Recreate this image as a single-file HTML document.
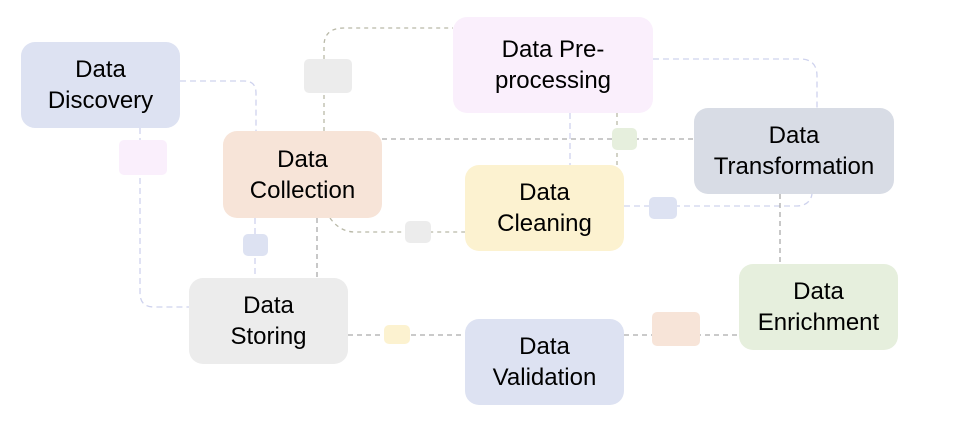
<!DOCTYPE html>
<html><head><style>
body{margin:0;background:#fff}
#c{position:relative;width:954px;height:424px;overflow:hidden;font-family:"Liberation Sans",sans-serif}
.n{position:absolute;border-radius:14px;display:flex;align-items:center;justify-content:center;text-align:center;font-size:24px;line-height:31px;color:#000}
.s{position:absolute;border-radius:5px}
svg{position:absolute;left:0;top:0}
</style></head><body><div id="c">
<svg width="954" height="424" fill="none" stroke-width="1.3">
<g stroke="#cfd3ee" stroke-dasharray="6,4">
<path d="M180 81 H244 Q256 81 256 93 V131"/>
<path d="M140 128 V293 Q140 307 154 307 H189"/>
<path d="M653 59 H800 Q817 59 817 76 V108"/>
<path d="M624 206 H796 Q810 206 812 194"/>
<path d="M570 113 V165"/>
<path d="M255 218 V278"/>
</g>
<g stroke="#b9b9a8" stroke-dasharray="4,4">
<path d="M324 131 V46 Q324 28 344 28 H453"/>
<path d="M617 113 V165"/>
<path d="M330 218 Q340 232 355 232 H465"/>
</g>
<g stroke="#aaa" stroke-dasharray="5,4">
<path d="M382 139 H694"/>
<path d="M317 218 V278"/>
<path d="M348 335 H465"/>
<path d="M624 335 H739"/>
<path d="M780 194 V264"/>
</g>
</svg>
<div class="s" style="left:304px;top:59px;width:48px;height:34px;background:#ececec"></div>
<div class="s" style="left:119px;top:140px;width:48px;height:35px;background:#faeffc"></div>
<div class="s" style="left:243px;top:234px;width:25px;height:22px;background:#dde2f2"></div>
<div class="s" style="left:405px;top:221px;width:26px;height:22px;background:#ececec"></div>
<div class="s" style="left:384px;top:325px;width:26px;height:19px;background:#fcf2d0"></div>
<div class="s" style="left:612px;top:128px;width:25px;height:22px;background:#e6efdd"></div>
<div class="s" style="left:649px;top:197px;width:28px;height:22px;background:#dde2f2"></div>
<div class="s" style="left:652px;top:312px;width:48px;height:34px;background:#f7e4d8"></div>
<div class="n" style="left:21px;top:42px;width:159px;height:86px;background:#dde2f2">Data<br>Discovery</div>
<div class="n" style="left:223px;top:131px;width:159px;height:87px;background:#f7e4d8">Data<br>Collection</div>
<div class="n" style="left:189px;top:278px;width:159px;height:86px;background:#ececec">Data<br>Storing</div>
<div class="n" style="left:453px;top:17px;width:200px;height:96px;background:#faeffc">Data Pre-<br>processing</div>
<div class="n" style="left:465px;top:165px;width:159px;height:86px;background:#fcf2d0">Data<br>Cleaning</div>
<div class="n" style="left:694px;top:108px;width:200px;height:86px;background:#d8dce5">Data<br>Transformation</div>
<div class="n" style="left:739px;top:264px;width:159px;height:86px;background:#e6efdd">Data<br>Enrichment</div>
<div class="n" style="left:465px;top:319px;width:159px;height:86px;background:#dde2f2">Data<br>Validation</div>
</div></body></html>
